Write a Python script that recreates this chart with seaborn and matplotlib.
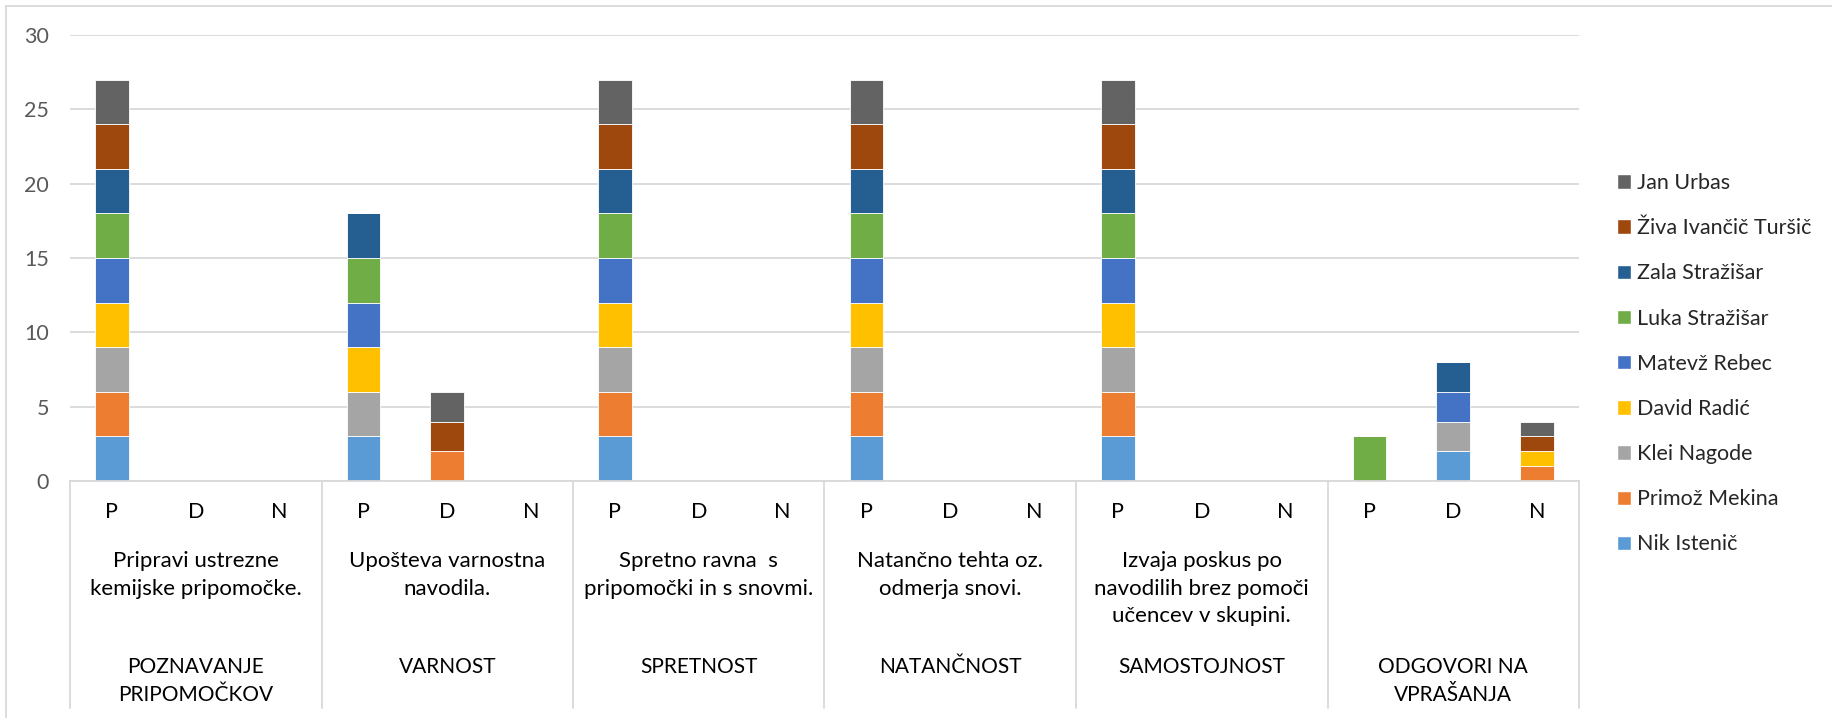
import numpy as np
import pandas as pd
import matplotlib
matplotlib.use("Agg")
import matplotlib.pyplot as plt
import seaborn as sns
from matplotlib.patches import Patch
from matplotlib.lines import Line2D

sns.set_style("white")
plt.rcParams['font.family'] = ['Lato', 'DejaVu Sans']

groups = ["POZNAVANJE\nPRIPOMOČKOV", "VARNOST", "SPRETNOST", "NATANČNOST",
          "SAMOSTOJNOST", "ODGOVORI NA\nVPRAŠANJA"]
criteria = ["Pripravi ustrezne\nkemijske pripomočke.",
            "Upošteva varnostna\nnavodila.",
            "Spretno ravna  s\npripomočki in s snovmi.",
            "Natančno tehta oz.\nodmerja snovi.",
            "Izvaja poskus po\nnavodilih brez pomoči\nučencev v skupini.",
            ""]
grades = ["P", "D", "N"]

students = ["Nik Istenič", "Primož Mekina", "Klei Nagode", "David Radić",
            "Matevž Rebec", "Luka Stražišar", "Zala Stražišar",
            "Živa Ivančič Turšič", "Jan Urbas"]
colors = ["#5B9BD5", "#ED7D31", "#A5A5A5", "#FFC000", "#4472C4",
          "#70AD47", "#255E91", "#9E480E", "#636363"]

# values for the 18 bars (group by group, P / D / N)
nik    = [3, 0, 0, 3, 0, 0, 3, 0, 0, 3, 0, 0, 3, 0, 0, 0, 2, 0]
primoz = [3, 0, 0, 0, 2, 0, 3, 0, 0, 3, 0, 0, 3, 0, 0, 0, 0, 1]
klei   = [3, 0, 0, 3, 0, 0, 3, 0, 0, 3, 0, 0, 3, 0, 0, 0, 2, 0]
david  = [3, 0, 0, 3, 0, 0, 3, 0, 0, 3, 0, 0, 3, 0, 0, 0, 0, 1]
matevz = [3, 0, 0, 3, 0, 0, 3, 0, 0, 3, 0, 0, 3, 0, 0, 0, 2, 0]
luka   = [3, 0, 0, 3, 0, 0, 3, 0, 0, 3, 0, 0, 3, 0, 0, 3, 0, 0]
zala   = [3, 0, 0, 3, 0, 0, 3, 0, 0, 3, 0, 0, 3, 0, 0, 0, 2, 0]
ziva   = [3, 0, 0, 0, 2, 0, 3, 0, 0, 3, 0, 0, 3, 0, 0, 0, 0, 1]
jan    = [3, 0, 0, 0, 2, 0, 3, 0, 0, 3, 0, 0, 3, 0, 0, 0, 0, 1]
series = [nik, primoz, klei, david, matevz, luka, zala, ziva, jan]

FS = 15.5
W, H = 1832, 718
fig = plt.figure(figsize=(W / 100, H / 100), dpi=100)
ax = fig.add_axes([70 / W, 1 - 481 / H, (1579 - 70) / W, (481 - 35) / H])

pos = [f"b{i}" for i in range(len(nik))]
bottom = np.zeros(len(pos))
for name, vals, col in zip(students, series, colors):
    df = pd.DataFrame({"pos": pos, "val": vals})
    sns.barplot(data=df, x="pos", y="val", order=pos, bottom=bottom,
                color=col, saturation=1, width=0.4, errorbar=None,
                edgecolor="white", linewidth=0.6, ax=ax)
    bottom = bottom + np.array(vals)

ax.set_xlim(-0.5, len(pos) - 0.5)
ax.set_ylim(0, 30)
ax.set_yticks(range(0, 31, 5))
ax.set_xticks([])
ax.set_xlabel("")
ax.set_ylabel("")
ax.tick_params(axis="y", length=0, pad=15, labelcolor="#595959", labelsize=FS)
ax.yaxis.grid(True, color="#D9D9D9", lw=1.3)
ax.set_axisbelow(True)
for s in ["top", "right", "left"]:
    ax.spines[s].set_visible(False)
ax.spines["bottom"].set_color("#D9D9D9")
ax.spines["bottom"].set_linewidth(1.3)

tr = ax.get_xaxis_transform()
px = 1.0 / (481 - 35)
for i in range(len(pos)):
    ax.text(i, -(512 - 481) * px, grades[i % 3], transform=tr, ha="center",
            va="center", fontsize=FS, color="#000000")
for k in range(len(groups)):
    xc = 3 * k + 1
    ax.text(xc, -(551 - 481) * px, criteria[k], transform=tr, ha="center",
            va="top", fontsize=16, linespacing=1.48, color="#000000")
    ax.text(xc, -(657 - 481) * px, groups[k], transform=tr, ha="center",
            va="top", fontsize=15, linespacing=1.52, color="#000000")
for k in range(len(groups) + 1):
    xb = 3 * k - 0.5
    ax.plot([xb, xb], [0, -(708 - 481) * px], transform=tr, clip_on=False,
            color="#D9D9D9", lw=1.3)

handles = [Patch(facecolor=c, label=n) for n, c in zip(students, colors)][::-1]
fig.legend(handles=handles, loc="upper left",
           bbox_to_anchor=(1617 / W, 1 - 173 / H), frameon=False,
           fontsize=FS, handlelength=0.65, handleheight=0.65,
           handletextpad=0.3, labelspacing=1.17, borderaxespad=0,
           borderpad=0)

fig.add_artist(Line2D([6 / W, 6 / W], [0, 1 - 6 / H], transform=fig.transFigure,
                      color="#D9D9D9", lw=1.3))
fig.add_artist(Line2D([6 / W, 1], [1 - 6 / H, 1 - 6 / H], transform=fig.transFigure,
                      color="#D9D9D9", lw=1.3))

fig.savefig("out.png", dpi=100)
